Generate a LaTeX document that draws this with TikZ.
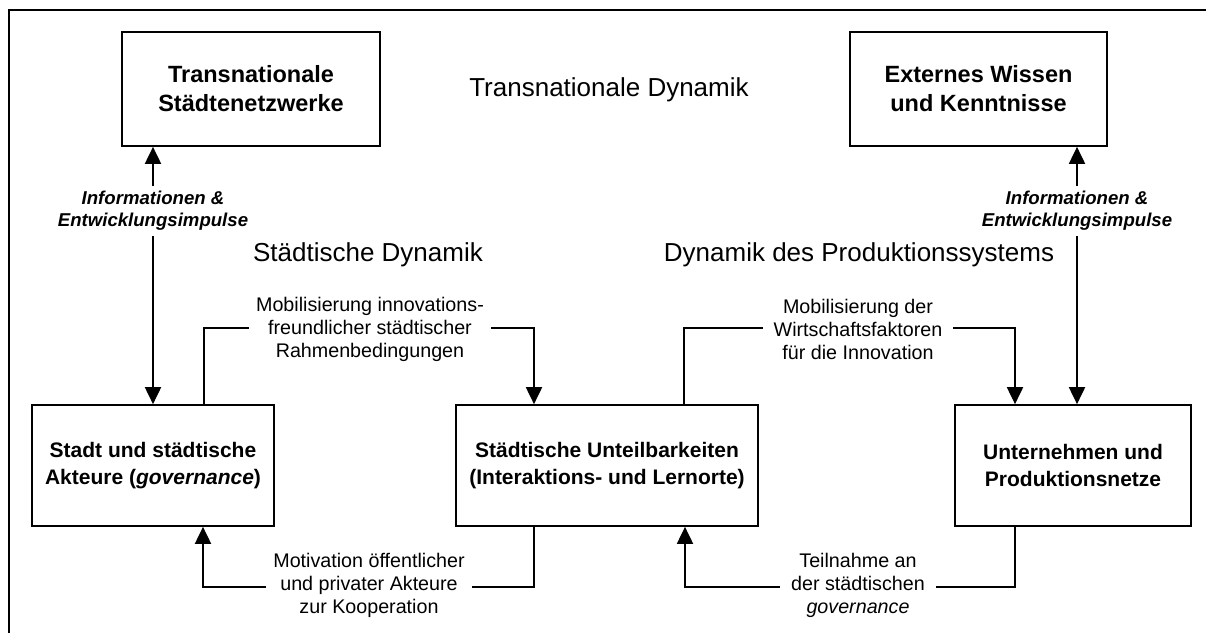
\documentclass[tikz,border=0pt]{standalone}
\usepackage{fontspec}
\setmainfont{Liberation Sans}
\usetikzlibrary{arrows.meta}
\begin{document}
\begin{tikzpicture}[x=1pt,y=-1pt,
  box/.style={draw, line width=1.7pt, rectangle, align=center, inner sep=0pt},
  topbox/.style={box, font=\fontsize{23.5}{29}\selectfont\bfseries},
  lowbox/.style={box, font=\fontsize{21}{27}\selectfont\bfseries},
  conn/.style={line width=1.9pt},
  tip/.style={-{Triangle[length=17pt,width=16pt]}},
  dtip/.style={{Triangle[length=17pt,width=16pt]}-{Triangle[length=17pt,width=16pt]}},
  lab/.style={fill=white, align=center, inner xsep=7pt, inner ysep=2pt, font=\fontsize{19.7}{23}\selectfont},
  info/.style={fill=white, align=center, inner xsep=4pt, inner ysep=5pt, font=\fontsize{18.6}{22}\selectfont\bfseries\itshape},
  head/.style={font=\fontsize{26}{30}\selectfont, inner sep=0pt}]
\useasboundingbox (0,0) rectangle (1206,633);
\fill[white] (0,0) rectangle (1206,633);
% frame
\draw[line width=1.9pt] (9,633) -- (9,10) -- (1206,10);

% boxes
\node[topbox, minimum width=258pt, minimum height=114pt] (tsn) at (251,89) {Transnationale\\Städtenetzwerke};
\node[topbox, minimum width=257pt, minimum height=114pt] (ewk) at (978.5,89) {Externes Wissen\\und Kenntnisse};
\node[lowbox, minimum width=242pt, minimum height=121pt] (stadt) at (153,465.5) {Stadt und städtische\\Akteure (\textit{governance})};
\node[lowbox, minimum width=302pt, minimum height=121pt] (mid) at (607,465.5) {Städtische Unteilbarkeiten\\(Interaktions- und Lernorte)};
\node[lowbox, minimum width=236pt, minimum height=121pt] (unt) at (1073,465.5) {Unternehmen und\\Produktionsnetze};

% headings
\node[head] (h1) at (609,90) {Transnationale Dynamik};
\node[head] (h2) at (368,255) {Städtische Dynamik};
\node[head] (h3) at (859,255) {Dynamik des Produktionssystems};

% connectors
\draw[conn, dtip] (stadt.north |- tsn.south) -- (stadt.north);
\draw[conn, dtip] ([xshift=4pt]unt.north |- ewk.south) -- ([xshift=4pt]unt.north);
\draw[conn, tip] ([xshift=51pt]stadt.north) -- ++(0,-76) -| ([xshift=-73pt]mid.north);
\draw[conn, tip] ([xshift=77pt]mid.north) -- ++(0,-76) -| ([xshift=-58pt]unt.north);
\draw[conn, tip] ([xshift=-58pt]unt.south) -- ++(0,60) -| ([xshift=78pt]mid.south);
\draw[conn, tip] ([xshift=-73pt]mid.south) -- ++(0,60) -| ([xshift=50pt]stadt.south);

% labels
\node[info] (i1) at (153,211) {Informationen \&\\Entwicklungsimpulse};
\node[info] (i2) at (1077,211) {Informationen \&\\Entwicklungsimpulse};
\node[lab] (l1) at (370,329) {Mobilisierung innovations-\\freundlicher städtischer\\Rahmenbedingungen};
\node[lab, inner xsep=11pt] (l2) at (858,329) {Mobilisierung der\\Wirtschaftsfaktoren\\für die Innovation};
\node[lab, inner xsep=11pt] (l3) at (858,585) {Teilnahme an\\der städtischen\\\textit{governance}};
\node[lab] (l4) at (369,585) {Motivation öffentlicher\\und privater Akteure\\zur Kooperation};
\end{tikzpicture}
\end{document}
